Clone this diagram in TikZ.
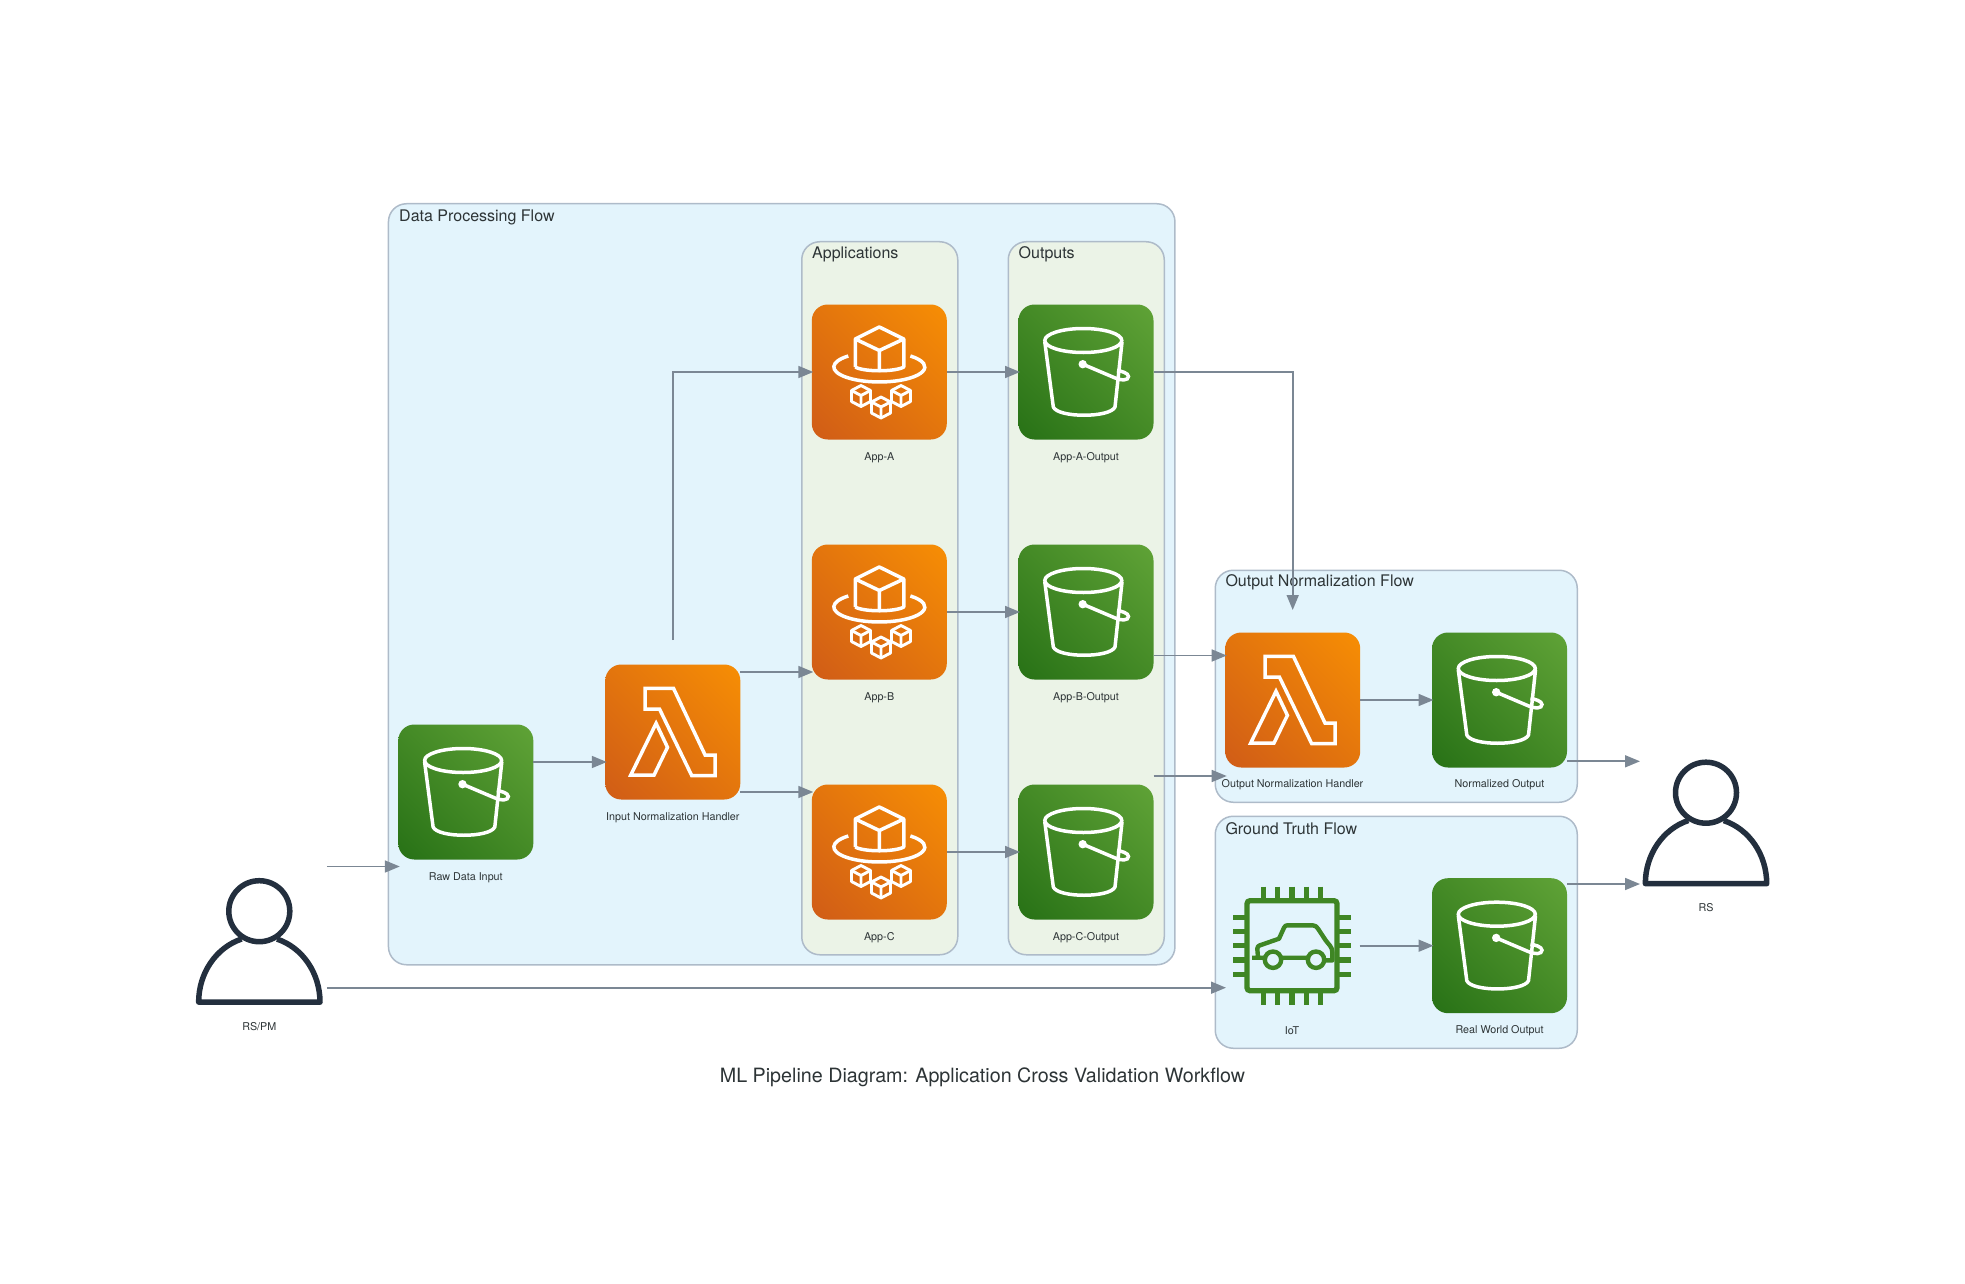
\documentclass[tikz,border=0pt]{standalone}
\usepackage{fontspec}
\setmainfont{TeX Gyre Heros}
\usetikzlibrary{positioning,arrows.meta,shadings}
\definecolor{awsink}{HTML}{232F3E}
\definecolor{iotgreen}{HTML}{3F8624}
\definecolor{flowgray}{HTML}{7B8794}
\definecolor{edgegray}{HTML}{AEBBC9}
\definecolor{bluegroup}{HTML}{E3F4FC}
\definecolor{greengroup}{HTML}{EBF3E7}
\definecolor{labelgray}{HTML}{2D3436}
\tikzset{
  flow/.style={draw=flowgray,line width=1.7pt,shorten >=-1.5pt,-{Triangle[length=15pt,width=12pt]}},
  group/.style={draw=edgegray,line width=1.5pt,rounded corners=18pt,fill=bluegroup,inner sep=0pt,anchor=north west},
  subgroup/.style={group,fill=greengroup},
  grouplabel/.style={font=\fontsize{16}{18}\selectfont,text=labelgray,anchor=west,inner sep=0pt},
  iconbox/.style={minimum size=135pt,inner sep=0pt,outer sep=0pt},
  orangebox/.style={iconbox,rounded corners=16pt,upper right={rgb,255:red,247;green,142;blue,4},lower left={rgb,255:red,208;green,92;blue,23},upper left={rgb,255:red,227;green,117;blue,13},lower right={rgb,255:red,227;green,117;blue,13}},
  greenbox/.style={iconbox,rounded corners=16pt,upper right={rgb,255:red,96;green,163;blue,55},lower left={rgb,255:red,39;green,113;blue,22},upper left={rgb,255:red,68;green,138;blue,38},lower right={rgb,255:red,68;green,138;blue,38}},
  iconlabel/.style={font=\fontsize{10.75}{12}\selectfont,text=labelgray,inner sep=0pt},
  bucket/.pic={
    \draw[white,line width=3.5pt] (-2.7,-31.5) ellipse [x radius=38.5pt,y radius=12pt];
    \draw[white,line width=3.5pt,line join=round] (-41.2,-30) -- (-32.7,35) .. controls (-28,46) and (24,46) .. (29,35) -- (36,-30);
    \fill[white] (-3.3,-7.8) circle (4.2);
    \draw[white,line width=3.5pt] (-3.3,-7.8) -- (28,5.5) .. controls (36,9) and (42.5,8.5) .. (42.5,4.5) .. controls (42.5,1) and (35,-1) .. (31,-1.5);
  },
  lambda/.pic={
    \draw[white,line width=3.5pt,line join=miter] (-27.7,-43.7) -- (0.7,-43.7) -- (32.3,23) -- (42.3,23) -- (42.3,43.7) -- (19,43.7) -- (-13.3,-23) -- (-27.7,-23) -- cycle;
    \draw[white,line width=3.5pt,line join=miter] (-16.7,-8.7) -- (-5.3,15.3) -- (-18.7,43) -- (-42,43) -- cycle;
  },
  smallcube/.pic={
    \draw[white,line width=2.9pt,line join=round] (0,-10.5) -- (9.5,-5.5) -- (9.5,5.5) -- (0,10.5) -- (-9.5,5.5) -- (-9.5,-5.5) -- cycle;
    \draw[white,line width=2.9pt,line join=round] (-9.5,-5.5) -- (0,-0.5) -- (9.5,-5.5) (0,-0.5) -- (0,10.5);
  },
  appcube/.pic={
    \draw[white,line width=3.5pt,line join=round] (-24,-5) -- (-24,-33) -- (0,-45) -- (24.5,-33) -- (24.5,-5) .. controls (16,0) and (-16,0) .. (-24,-5);
    \draw[white,line width=3.5pt,line join=round] (-24,-33) -- (0,-21.5) -- (24.5,-33) (0,-21.5) -- (0,0);
    \draw[white,line width=3.5pt] (-31,-16) arc [start angle=133,end angle=407,x radius=45.5pt,y radius=15pt];
    \pic at (-18.3,24) {smallcube};
    \pic at (1.7,35.5) {smallcube};
    \pic at (21.7,24) {smallcube};
  },
  person/.pic={
    \draw[awsink,line width=5.5pt] (0,-30.3) circle (30.5);
    \draw[awsink,line width=5.5pt,line join=round] (-17.7,-2.5) arc [start angle=107,end angle=180,x radius=60.7pt,y radius=66pt] -- (60.7,60.7) arc [start angle=0,end angle=73,x radius=60.7pt,y radius=66pt];
  },
  iotcar/.pic={
    \draw[iotgreen,line width=5.3pt,rounded corners=3pt] (-45,-45) rectangle (45,45);
    \foreach \p in {-28.5,-14.3,0,14.3,28.5} {
      \draw[iotgreen,line width=5.3pt] (\p,-59) -- (\p,-47) (\p,47) -- (\p,59);
      \draw[iotgreen,line width=5.3pt] (-59,\p) -- (-47,\p) (47,\p) -- (59,\p);
    }
    \draw[iotgreen,line width=4.4pt,line join=round] (-40,12) -- (-27,12) (-34,12) -- (-34.7,3) .. controls (-34.7,1) and (-33.5,0) .. (-32.3,-0.3) -- (-13,-7) -- (-8,-18) .. controls (-7,-20) and (-6,-20.3) .. (-5,-20.3) -- (21,-20.3) .. controls (23,-20.3) and (25,-19) .. (26,-17) -- (33.7,-5.3) -- (38,0) .. controls (39.5,2) and (40.3,4) .. (40.3,6) -- (40.3,14.7) -- (32,14.7) (-10.7,12) -- (15,12);
    \draw[iotgreen,line width=4.4pt] (-19,14) circle (8.2) (24,14) circle (8.2);
  }
}
\begin{document}
\begin{tikzpicture}[x=1pt,y=-1pt]
\useasboundingbox (0,0) rectangle (1965,1284);
\node[group,minimum width=786.5pt,minimum height=761pt] (dataflow) at (387.7,203) {};
\node[grouplabel] (dataflowlabel) at (399,217) {Data Processing Flow};
\node[subgroup,minimum width=156pt,minimum height=713pt] (applist) at (801,241) {};
\node[grouplabel] (applistlabel) at (812,254.5) {Applications};
\node[subgroup,minimum width=156pt,minimum height=713pt] (outlist) at (1007.5,241) {};
\node[grouplabel] (outlistlabel) at (1018.5,254.5) {Outputs};
\node[group,minimum width=362pt,minimum height=232pt] (normflow) at (1214.5,569.5) {};
\node[grouplabel] (normflowlabel) at (1225.3,582.5) {Output Normalization Flow};
\node[group,minimum width=362pt,minimum height=232pt] (truthflow) at (1214.5,815.5) {};
\node[grouplabel] (truthflowlabel) at (1225.3,829) {Ground Truth Flow};

\node[iconbox] (rspm) at (259.3,941.5) {};
\pic at (rspm) {person};
\node[iconlabel] (rspmlabel) at (259.3,1026.5) {RS/PM};
\node[iconbox] (rs) at (1706,823) {};
\pic at (rs) {person};
\node[iconlabel] (rslabel) at (1706,908) {RS};

\node[greenbox] (rawdata) at (465.8,792) {};
\pic at (rawdata) {bucket};
\node[iconlabel] (rawdatalabel) at (465.8,878) {Raw Data Input};
\node[orangebox] (inhandler) at (672.8,732) {};
\pic at (inhandler) {lambda};
\node[iconlabel] (inhandlerlabel) at (672.8,818) {Input Normalization Handler};

\foreach \n/\t/\y in {appa/App-A/372,appb/App-B/612,appc/App-C/852} {
  \node[orangebox] (\n) at (879.3,\y) {};
  \pic at (\n) {appcube};
  \node[iconlabel] (\n label) at (879.3,\y+85.3) {\t};
}
\foreach \n/\t/\y in {outa/App-A-Output/372,outb/App-B-Output/612,outc/App-C-Output/852} {
  \node[greenbox] (\n) at (1086,\y) {};
  \pic at (\n) {bucket};
  \node[iconlabel] (\n label) at (1086,\y+85.3) {\t};
}

\node[orangebox] (outhandler) at (1292.7,700) {};
\pic at (outhandler) {lambda};
\node[iconlabel] (outhandlerlabel) at (1292.5,785) {Output Normalization Handler};
\node[greenbox] (normout) at (1499.5,700) {};
\pic at (normout) {bucket};
\node[iconlabel] (normoutlabel) at (1499.5,785) {Normalized Output};
\node[iconbox] (iot) at (1292,945.7) {};
\pic at (iot) {iotcar};
\node[iconlabel] (iotlabel) at (1292,1030.3) {IoT};
\node[greenbox] (realout) at (1499.5,945.7) {};
\pic at (realout) {bucket};
\node[iconlabel] (realoutlabel) at (1499.5,1031) {Real World Output};

\node[font=\fontsize{19.7}{22}\selectfont,text=labelgray,inner sep=0pt] (title) at (982.5,1077) {ML Pipeline Diagram: Application Cross Validation Workflow};

\draw[flow] ([yshift=75pt]rspm.east) -- ([yshift=-74.5pt]rawdata.west);
\draw[flow] ([yshift=-46.2pt]rspm.east) -- ([yshift=-42pt]iot.west);
\draw[flow] ([yshift=30pt]rawdata.east) -- ([yshift=-30pt]inhandler.west);
\draw[flow] ([yshift=24.5pt]inhandler.north) |- (appa.west);
\draw[flow] ([yshift=60pt]inhandler.east) -- ([yshift=-60pt]appb.west);
\draw[flow] ([yshift=-60pt]inhandler.east) -- ([yshift=60pt]appc.west);
\draw[flow] (appa.east) -- (outa.west);
\draw[flow] (appb.east) -- (outb.west);
\draw[flow] (appc.east) -- (outc.west);
\draw[flow] (outa.east) -| ([yshift=24pt]outhandler.north);
\draw[flow] ([yshift=-43.5pt]outb.east) -- ([yshift=44.5pt]outhandler.west);
\draw[flow] ([yshift=76pt]outc.east) -- ([yshift=-76pt]outhandler.west);
\draw[flow] (outhandler.east) -- (normout.west);
\draw[flow] (iot.east) -- (realout.west);
\draw[flow] ([yshift=-61.3pt]normout.east) -- ([yshift=61.7pt]rs.west);
\draw[flow] ([yshift=61.7pt]realout.east) -- ([yshift=-61pt]rs.west);
\end{tikzpicture}
\end{document}
